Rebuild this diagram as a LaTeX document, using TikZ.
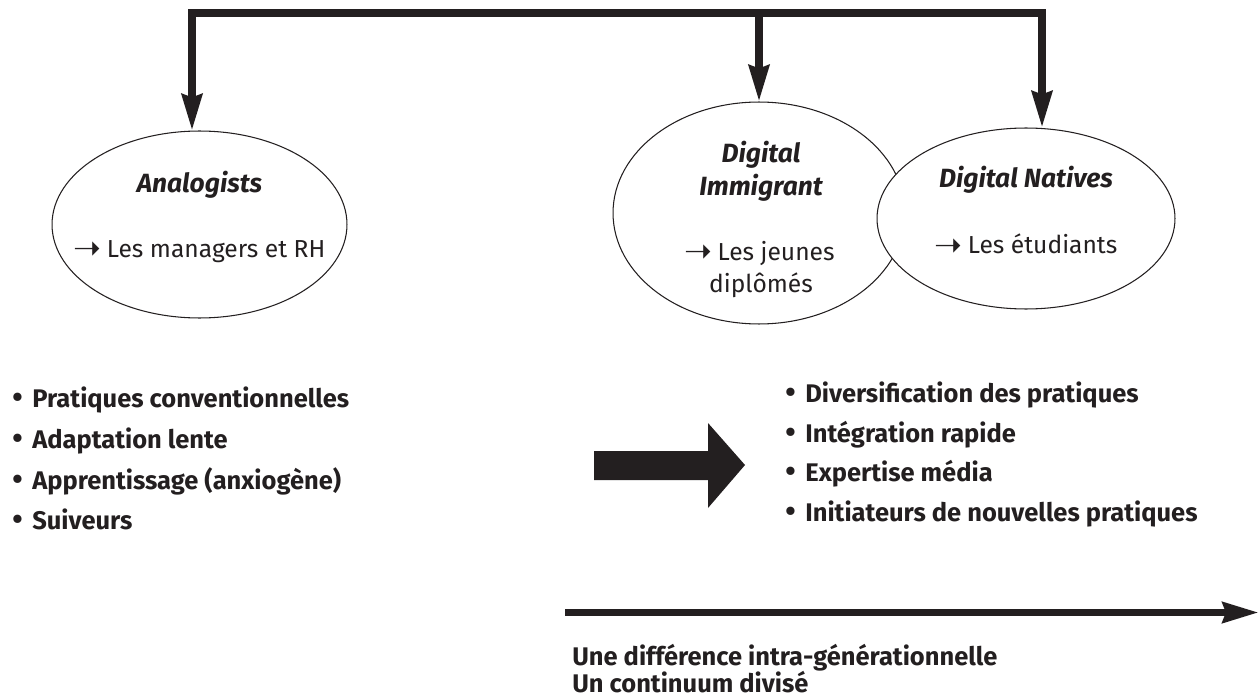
\documentclass[tikz,border=0pt]{standalone}
\usepackage{fontspec}
\setmainfont{Fira Sans}
\newfontfamily\arrfont{DejaVu Sans}
\usetikzlibrary{arrows.meta,positioning,shapes.geometric}
\definecolor{ink}{RGB}{35,31,32}
\newcommand{\toarr}{\raisebox{-1.5pt}{\arrfont\fontsize{19}{19}\selectfont ➝}\hspace{3pt}}
\newcommand{\bul}{{\fontsize{17}{17}\selectfont •}\hspace{5.5pt}}

\begin{document}
\begin{tikzpicture}[x=0.02cm, y=-0.02cm, ink, font=\fontsize{14}{17}\selectfont,
  ell/.style={ellipse, draw=ink, line width=.6pt, fill=white, inner sep=0pt},
  ttl/.style={anchor=base, inner sep=0pt, font=\fontsize{15}{18}\selectfont\bfseries\itshape},
  sub/.style={anchor=base, inner sep=0pt},
  itm/.style={anchor=base west, inner sep=0pt, font=\fontsize{14.5}{17}\selectfont\bfseries},
  arr/.style={line width=4.2pt, -{Stealth[length=0.72cm, width=0.4cm, inset=0.06cm]}}]
		\useasboundingbox (0,0) rectangle (1260,699);

		% the three groups
		\node[ell, minimum width=5.9cm, minimum height=3.74cm] (ana) at (199.5,224.5) {};
		\node[ell, minimum width=5.84cm, minimum height=4.44cm] (imm) at (759,213) {};
		\node[ell, minimum width=5.96cm, minimum height=3.62cm] (nat) at (1026,218.5) {};

		\node[ttl] (ana_title) at (199.5,193) {Analogists};
		\node[sub] (ana_label) at (199.5,257) {\toarr Les managers et RH};
		\node[ttl] (imm_title) at (761,163) {Digital};
		\node[ttl] (imm_title2) at (761,195) {Immigrant};
		\node[sub] (imm_label) at (759.5,260) {\toarr Les jeunes};
		\node[sub] (imm_label2) at (761,292) {diplômés};
		\node[ttl] (nat_title) at (1026,188) {Digital Natives};
		\node[sub] (nat_label) at (1026,254) {\toarr Les étudiants};

		% top bar
		\coordinate (t1) at (192,13);
		\coordinate (t2) at (759,13);
		\coordinate (t3) at (1042,13);
		\draw[line width=4.5pt, line cap=rect] (t1) -- (t3);
		\draw[arr] (t1) -- (t1 |- ana.north);
		\draw[arr] (t2) -- (imm.north);
		\draw[arr] (t3) -- (t3 |- nat.north);

		% lists
		\node[itm] (l1) at (12,407) {\bul Pratiques conventionnelles};
		\node[itm] (l2) at (12,448) {\bul Adaptation lente};
		\node[itm] (l3) at (12,489) {\bul Apprentissage (anxiogène)};
		\node[itm] (l4) at (12,529) {\bul Suiveurs};

		\fill (594,451) -- (708,451) -- (708,423) -- (745,465) -- (708,508) -- (708,480) -- (594,480) -- cycle;

		\node[itm] (r1) at (785,402) {\bul Diversification des pratiques};
		\node[itm] (r2) at (785,442) {\bul Intégration rapide};
		\node[itm] (r3) at (785,481) {\bul Expertise média};
		\node[itm] (r4) at (785,521) {\bul Initiateurs de nouvelles pratiques};

		% continuum
		\coordinate (c0) at (565,612.5);
		\coordinate (c1) at (1259,612.5);
		\draw[line width=4.5pt, -{Stealth[length=0.72cm, width=0.4cm, inset=0.06cm]}] (c0) -- (c1);
		\node[itm] (bot1) at (572,665) {Une différence intra-générationnelle};
		\node[itm] (bot2) at (572,692) {Un continuum divisé};
	\end{tikzpicture}
\end{document}
